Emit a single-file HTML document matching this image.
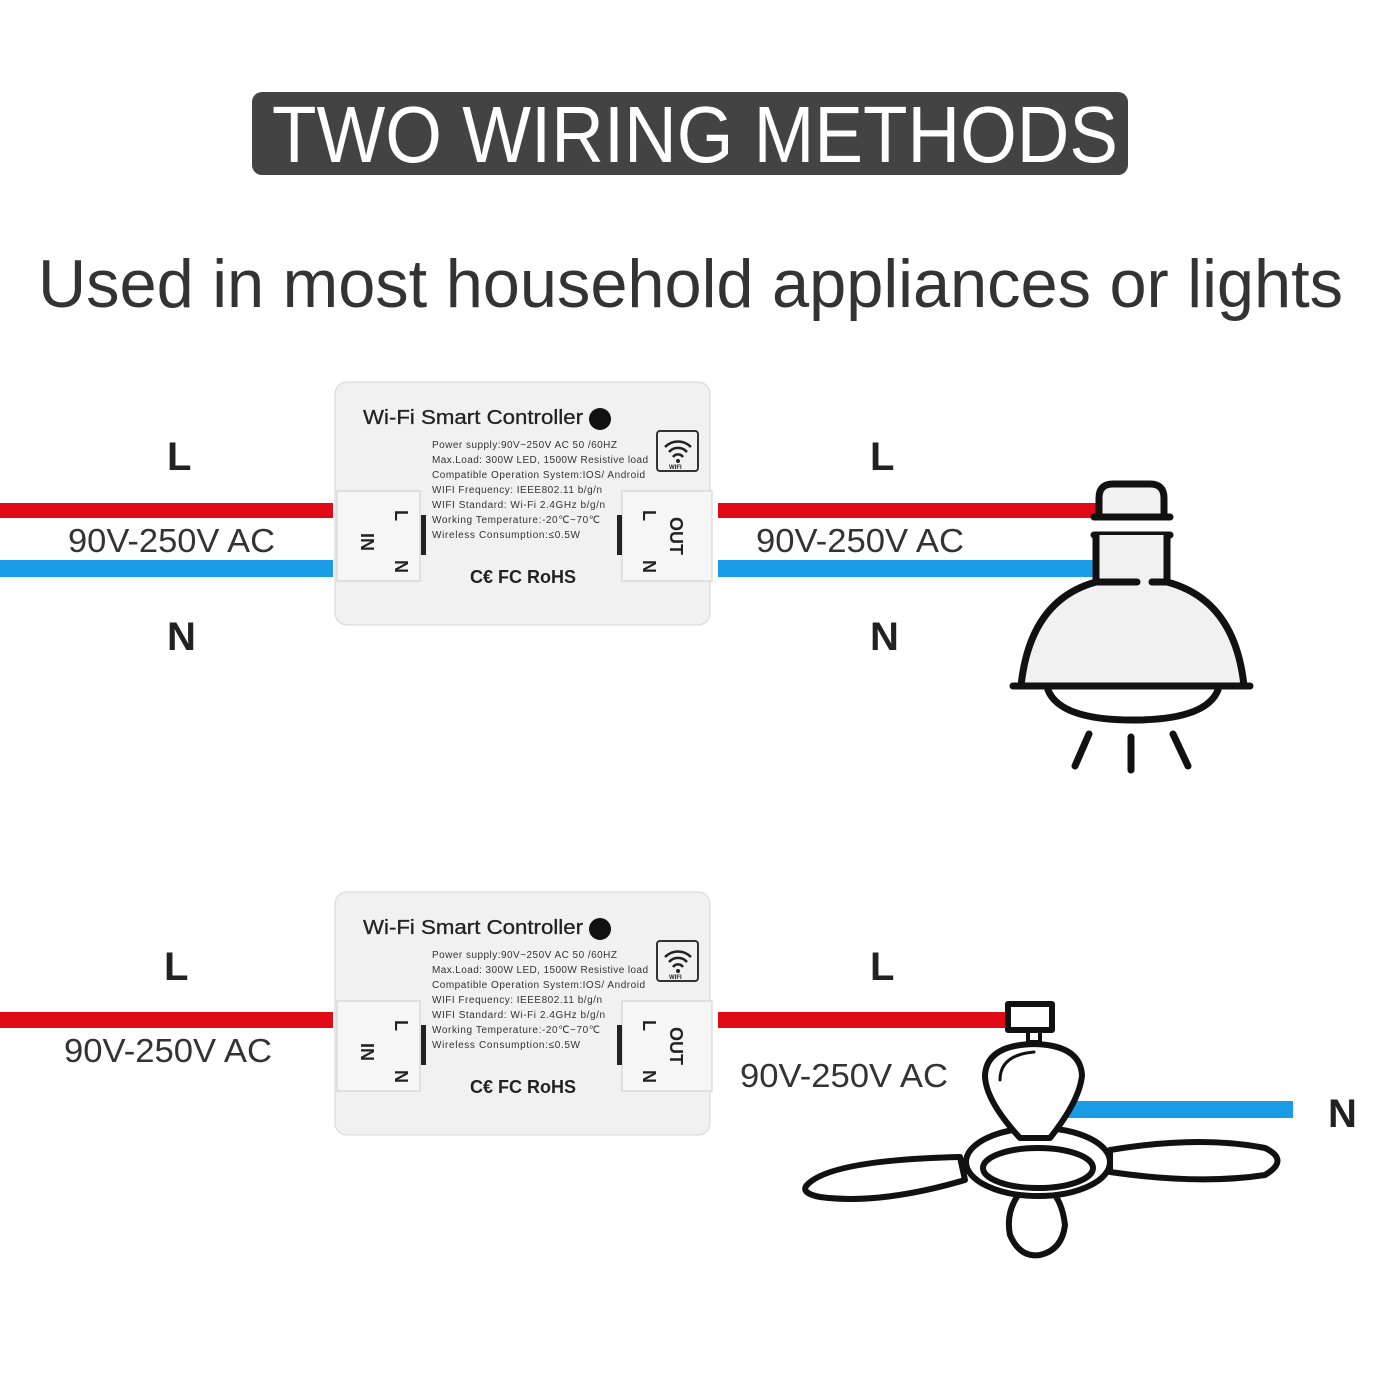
<!DOCTYPE html>
<html><head><meta charset="utf-8"><style>
html,body{margin:0;padding:0;background:#fff;}
svg{display:block;}
text{font-family:"Liberation Sans",sans-serif;}
</style></head><body>
<svg width="1400" height="1400" viewBox="0 0 1400 1400" xmlns="http://www.w3.org/2000/svg">
<rect width="1400" height="1400" fill="#fff"/>
<rect x="252" y="92" width="876" height="83" rx="10" fill="#434343"/>
<text x="272" y="162" font-size="80" fill="#fff" textLength="846" lengthAdjust="spacingAndGlyphs">TWO WIRING METHODS</text>
<text x="38" y="307" font-size="68" fill="#333" textLength="1305" lengthAdjust="spacingAndGlyphs">Used in most household appliances or lights</text>

<rect x="0" y="503" width="333" height="15" fill="#e20a17"/>
<rect x="0" y="560" width="333" height="17" fill="#1a9be6"/>
<rect x="718" y="503" width="382" height="15" fill="#e20a17"/>
<rect x="718" y="560" width="377" height="17" fill="#1a9be6"/>
<g font-size="40" font-weight="bold" fill="#222">
<text x="167" y="470">L</text><text x="167" y="650">N</text>
<text x="870" y="470">L</text><text x="870" y="650">N</text>
<text x="164" y="980">L</text><text x="870" y="980">L</text>
<text x="1328" y="1127">N</text>
</g>
<g font-size="33" fill="#333">
<text x="68" y="552" textLength="207" lengthAdjust="spacingAndGlyphs">90V-250V AC</text>
<text x="756" y="552" textLength="208" lengthAdjust="spacingAndGlyphs">90V-250V AC</text>
<text x="64" y="1062" textLength="208" lengthAdjust="spacingAndGlyphs">90V-250V AC</text>
<text x="740" y="1087" textLength="208" lengthAdjust="spacingAndGlyphs">90V-250V AC</text>
</g>

<g>
<rect x="335" y="382" width="375" height="243" rx="12" fill="#f1f1f1" stroke="#d6d6d6"/>
<text x="363" y="424" font-size="20" fill="#222" textLength="220" lengthAdjust="spacingAndGlyphs" stroke="#222" stroke-width="0.3">Wi-Fi Smart Controller</text>
<circle cx="600" cy="419" r="11" fill="#111"/>
<g font-size="10" fill="#333" lengthAdjust="spacingAndGlyphs">
<text x="432" y="448" textLength="185">Power supply:90V~250V AC 50 /60HZ</text>
<text x="432" y="463" textLength="216">Max.Load: 300W LED, 1500W Resistive load</text>
<text x="432" y="478" textLength="213">Compatible Operation System:IOS/ Android</text>
<text x="432" y="493" textLength="170">WIFI Frequency: IEEE802.11 b/g/n</text>
<text x="432" y="508" textLength="173">WIFI Standard: Wi-Fi 2.4GHz b/g/n</text>
<text x="432" y="523" textLength="168">Working Temperature:-20℃~70℃</text>
<text x="432" y="538" textLength="148">Wireless Consumption:≤0.5W</text>
</g>
<rect x="657" y="431" width="41" height="40" rx="3" fill="none" stroke="#333" stroke-width="2"/>
<path d="M665 447 A18 18 0 0 1 691 447 M669 452 A12 12 0 0 1 687 452 M673 457 A6 6 0 0 1 683 457" fill="none" stroke="#222" stroke-width="2.5"/>
<circle cx="678" cy="461" r="2" fill="#222"/>
<text x="669" y="469" font-size="6" font-weight="bold" fill="#222">WIFI</text>
<rect x="337" y="491" width="83" height="90" fill="#f6f6f6" stroke="#cfcfcf"/>
<rect x="622" y="491" width="90" height="90" fill="#f6f6f6" stroke="#cfcfcf"/>
<rect x="421" y="515" width="5" height="40" fill="#222"/>
<rect x="617" y="515" width="5" height="40" fill="#222"/>
<g font-size="18" font-weight="bold" fill="#222">
<text transform="translate(395,510) rotate(90)">L</text>
<text transform="translate(395,560) rotate(90)">N</text>
<text transform="translate(361,533) rotate(90)">IN</text>
<text transform="translate(643,510) rotate(90)">L</text>
<text transform="translate(643,560) rotate(90)">N</text>
<text transform="translate(670,517) rotate(90)">OUT</text>
</g>
<text x="470" y="583" font-size="18" font-weight="bold" fill="#222">C€ FC RoHS</text>
</g>

<g fill="none" stroke="#111" stroke-width="7" stroke-linecap="round" stroke-linejoin="round">
<path d="M1099 517 L1099 498 Q1099 484 1113 484 L1150 484 Q1164 484 1164 498 L1164 517" fill="#f1f1f1"/>
<line x1="1094" y1="517" x2="1170" y2="517"/>
<line x1="1094" y1="535" x2="1170" y2="535"/>
<rect x="1096" y="535" width="71" height="47" fill="#f1f1f1" stroke="none"/>
<path d="M1096 582 Q1030 600 1021 686 L1244 686 Q1235 600 1167 582 Z" fill="#f1f1f1" stroke="none"/>
<path d="M1096 582 Q1030 600 1021 686 M1167 582 Q1235 600 1244 686"/>
<path d="M1096 582 L1137 582 M1152 582 L1167 582"/>
<path d="M1096 535 L1096 582 M1167 535 L1167 582"/>
<line x1="1013" y1="686" x2="1250" y2="686"/>
<path d="M1048 690 Q1060 720 1133 720 Q1206 720 1218 690"/>
<path d="M1089 734 L1075 766 M1131 737 L1131 770 M1173 734 L1188 766"/>
</g>

<rect x="0" y="1012" width="333" height="16" fill="#e20a17"/>
<rect x="718" y="1012" width="290" height="16" fill="#e20a17"/>
<rect x="1065" y="1101" width="228" height="17" fill="#1a9be6"/>

<g transform="translate(0,510)">
<rect x="335" y="382" width="375" height="243" rx="12" fill="#f1f1f1" stroke="#d6d6d6"/>
<text x="363" y="424" font-size="20" fill="#222" textLength="220" lengthAdjust="spacingAndGlyphs" stroke="#222" stroke-width="0.3">Wi-Fi Smart Controller</text>
<circle cx="600" cy="419" r="11" fill="#111"/>
<g font-size="10" fill="#333" lengthAdjust="spacingAndGlyphs">
<text x="432" y="448" textLength="185">Power supply:90V~250V AC 50 /60HZ</text>
<text x="432" y="463" textLength="216">Max.Load: 300W LED, 1500W Resistive load</text>
<text x="432" y="478" textLength="213">Compatible Operation System:IOS/ Android</text>
<text x="432" y="493" textLength="170">WIFI Frequency: IEEE802.11 b/g/n</text>
<text x="432" y="508" textLength="173">WIFI Standard: Wi-Fi 2.4GHz b/g/n</text>
<text x="432" y="523" textLength="168">Working Temperature:-20℃~70℃</text>
<text x="432" y="538" textLength="148">Wireless Consumption:≤0.5W</text>
</g>
<rect x="657" y="431" width="41" height="40" rx="3" fill="none" stroke="#333" stroke-width="2"/>
<path d="M665 447 A18 18 0 0 1 691 447 M669 452 A12 12 0 0 1 687 452 M673 457 A6 6 0 0 1 683 457" fill="none" stroke="#222" stroke-width="2.5"/>
<circle cx="678" cy="461" r="2" fill="#222"/>
<text x="669" y="469" font-size="6" font-weight="bold" fill="#222">WIFI</text>
<rect x="337" y="491" width="83" height="90" fill="#f6f6f6" stroke="#cfcfcf"/>
<rect x="622" y="491" width="90" height="90" fill="#f6f6f6" stroke="#cfcfcf"/>
<rect x="421" y="515" width="5" height="40" fill="#222"/>
<rect x="617" y="515" width="5" height="40" fill="#222"/>
<g font-size="18" font-weight="bold" fill="#222">
<text transform="translate(395,510) rotate(90)">L</text>
<text transform="translate(395,560) rotate(90)">N</text>
<text transform="translate(361,533) rotate(90)">IN</text>
<text transform="translate(643,510) rotate(90)">L</text>
<text transform="translate(643,560) rotate(90)">N</text>
<text transform="translate(670,517) rotate(90)">OUT</text>
</g>
<text x="470" y="583" font-size="18" font-weight="bold" fill="#222">C€ FC RoHS</text>
</g>

<g fill="none" stroke="#111" stroke-width="6" stroke-linecap="round" stroke-linejoin="round">
<rect x="1008" y="1004" width="44" height="26" fill="#fff"/>
<rect x="1028" y="1030" width="12" height="12" stroke-width="4"/>
<path d="M807 1185 Q830 1160 960 1157 L965 1180 Q880 1205 820 1197 Q800 1193 807 1185 Z" fill="#fff"/>
<path d="M1110 1150 Q1200 1135 1265 1148 Q1290 1160 1265 1175 Q1200 1185 1110 1172 Z" fill="#fff"/>
<path d="M1022 1190 Q1005 1210 1010 1235 Q1020 1258 1040 1255 Q1062 1250 1065 1225 Q1062 1200 1050 1190 Z" fill="#fff"/>
<ellipse cx="1038" cy="1162" rx="72" ry="34" fill="#fff"/>
<ellipse cx="1038" cy="1168" rx="55" ry="20"/>
<path d="M1020 1138 Q985 1100 985 1075 Q987 1045 1034 1044 Q1080 1045 1082 1075 Q1080 1100 1050 1138 Z" fill="#fff"/>
<path d="M1000 1080 Q1000 1055 1034 1052" stroke-width="3"/>
</g>
</svg>
</body></html>
